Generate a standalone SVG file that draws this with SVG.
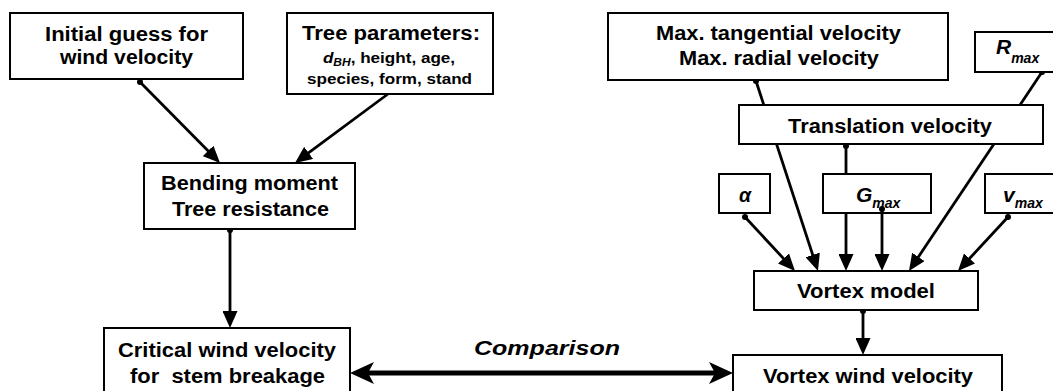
<svg xmlns="http://www.w3.org/2000/svg" width="1053" height="391" viewBox="0 0 1053 391">
<style>
.box{fill:#fff;stroke:#000;stroke-width:2}
.t{font-family:"Liberation Sans",Arial,sans-serif;font-weight:bold;font-size:19.5px;fill:#000;text-anchor:middle}
.s{font-size:15px}
.i{font-style:italic}
.c{fill:none;stroke:#000;stroke-width:2.8}
.cmp{fill:none;stroke:#000;stroke-width:5}
</style>
<defs>
<marker id="ah" markerUnits="userSpaceOnUse" markerWidth="17" markerHeight="15" refX="9" refY="7.5" orient="auto">
<path d="M0,0 L17,7.5 L0,15 Z" fill="#000"/>
</marker>
<marker id="dot" markerUnits="userSpaceOnUse" markerWidth="7" markerHeight="7" refX="3.5" refY="3.5">
<circle cx="3.5" cy="3.5" r="3" fill="#000"/>
</marker>
<marker id="big" markerUnits="userSpaceOnUse" markerWidth="24" markerHeight="22" refX="10" refY="11" orient="auto-start-reverse">
<path d="M0,0 L24,11 L0,22 L6,11 Z" fill="#000"/>
</marker>
</defs>

<g id="connectors">
<line class="c" x1="140" y1="82" x2="214.4" y2="157.3" marker-start="url(#dot)" marker-end="url(#ah)"/>
<line class="c" x1="392" y1="91" x2="301.4" y2="158.2" marker-start="url(#dot)" marker-end="url(#ah)"/>
<line class="c" x1="230" y1="230" x2="230" y2="320" marker-start="url(#dot)" marker-end="url(#ah)"/>
<line class="cmp" x1="364" y1="373" x2="719" y2="373" marker-start="url(#big)" marker-end="url(#big)"/>
<line class="c" x1="756" y1="81" x2="815.5" y2="263.4" marker-start="url(#dot)" marker-end="url(#ah)"/>
<line class="c" x1="1042" y1="72" x2="913.4" y2="264.4" marker-start="url(#dot)" marker-end="url(#ah)"/>
<line class="c" x1="846" y1="146" x2="846" y2="263" marker-start="url(#dot)" marker-end="url(#ah)"/>
<line class="c" x1="745" y1="217" x2="789.6" y2="265.1" marker-start="url(#dot)" marker-end="url(#ah)"/>
<line class="c" x1="1008" y1="217" x2="963.4" y2="265.1" marker-start="url(#dot)" marker-end="url(#ah)"/>
<line class="c" x1="863" y1="311" x2="863" y2="347" marker-start="url(#dot)" marker-end="url(#ah)"/>
</g>

<g id="n-initial">
<rect class="box" x="10" y="13" width="233" height="66"/>
<text class="t" x="126.5" y="41" textLength="163" lengthAdjust="spacingAndGlyphs">Initial guess for</text>
<text class="t" x="126.5" y="64" textLength="133" lengthAdjust="spacingAndGlyphs">wind velocity</text>
</g>

<g id="n-tree">
<rect class="box" x="287" y="13" width="206" height="81"/>
<text class="t" x="391" y="40" textLength="178" lengthAdjust="spacingAndGlyphs">Tree parameters:</text>
<text class="t s" transform="translate(389,63) scale(1.14,1)"><tspan class="i">d</tspan><tspan class="i" font-size="10.5" dy="3">BH</tspan><tspan dy="-3">, height, age,</tspan></text>
<text class="t s" x="389.5" y="84" textLength="165" lengthAdjust="spacingAndGlyphs">species, form, stand</text>
</g>

<g id="n-bending">
<rect class="box" x="144" y="163" width="211" height="66"/>
<text class="t" x="249.5" y="190" textLength="177" lengthAdjust="spacingAndGlyphs">Bending moment</text>
<text class="t" x="250.5" y="216" textLength="157" lengthAdjust="spacingAndGlyphs">Tree resistance</text>
</g>

<g id="n-critical">
<rect class="box" x="104" y="328" width="246" height="66"/>
<text class="t" x="227" y="357" textLength="218" lengthAdjust="spacingAndGlyphs">Critical wind velocity</text>
<text class="t" x="227.5" y="383" textLength="195" lengthAdjust="spacingAndGlyphs" style="white-space:pre">for  stem breakage</text>
</g>

<g id="label-comparison">
<text class="t i" x="547" y="355" font-size="22" textLength="146" lengthAdjust="spacingAndGlyphs">Comparison</text>
</g>

<g id="n-maxvel">
<rect class="box" x="608" y="13" width="340" height="67"/>
<text class="t" x="778.5" y="40" textLength="245" lengthAdjust="spacingAndGlyphs">Max. tangential velocity</text>
<text class="t" x="779" y="65" textLength="200" lengthAdjust="spacingAndGlyphs">Max. radial velocity</text>
</g>

<g id="n-rmax">
<rect class="box" x="975" y="32" width="85" height="40"/>
<text class="t i" transform="translate(996,54)" style="text-anchor:start"><tspan font-size="21">R</tspan><tspan font-size="14" dy="9">max</tspan></text>
</g>

<g id="n-translation">
<rect class="box" x="739" y="105" width="304" height="39"/>
<text class="t" x="890" y="133" textLength="204" lengthAdjust="spacingAndGlyphs">Translation velocity</text>
</g>

<g id="n-alpha">
<rect class="box" x="719" y="174" width="51" height="39"/>
<text class="t i" x="745" y="202" font-size="22">α</text>
</g>

<g id="n-gmax">
<rect class="box" x="823" y="174" width="108" height="39"/>
<text class="t i" transform="translate(856,202)" style="text-anchor:start"><tspan font-size="21">G</tspan><tspan font-size="14" dy="6">max</tspan></text>
</g>

<g id="n-vmax">
<rect class="box" x="985" y="174" width="75" height="39"/>
<text class="t i" transform="translate(1003,202)" style="text-anchor:start"><tspan font-size="21">v</tspan><tspan font-size="14" dy="6">max</tspan></text>
</g>

<g id="n-vortex">
<rect class="box" x="754" y="271" width="224" height="39"/>
<text class="t" x="866" y="298" textLength="138" lengthAdjust="spacingAndGlyphs">Vortex model</text>
</g>

<g id="n-vortexwind">
<rect class="box" x="733" y="355" width="269" height="39"/>
<text class="t" x="868" y="383" textLength="210" lengthAdjust="spacingAndGlyphs">Vortex wind velocity</text>
</g>
<line class="c" x1="882" y1="209" x2="882" y2="263" marker-start="url(#dot)" marker-end="url(#ah)"/>
</svg>
